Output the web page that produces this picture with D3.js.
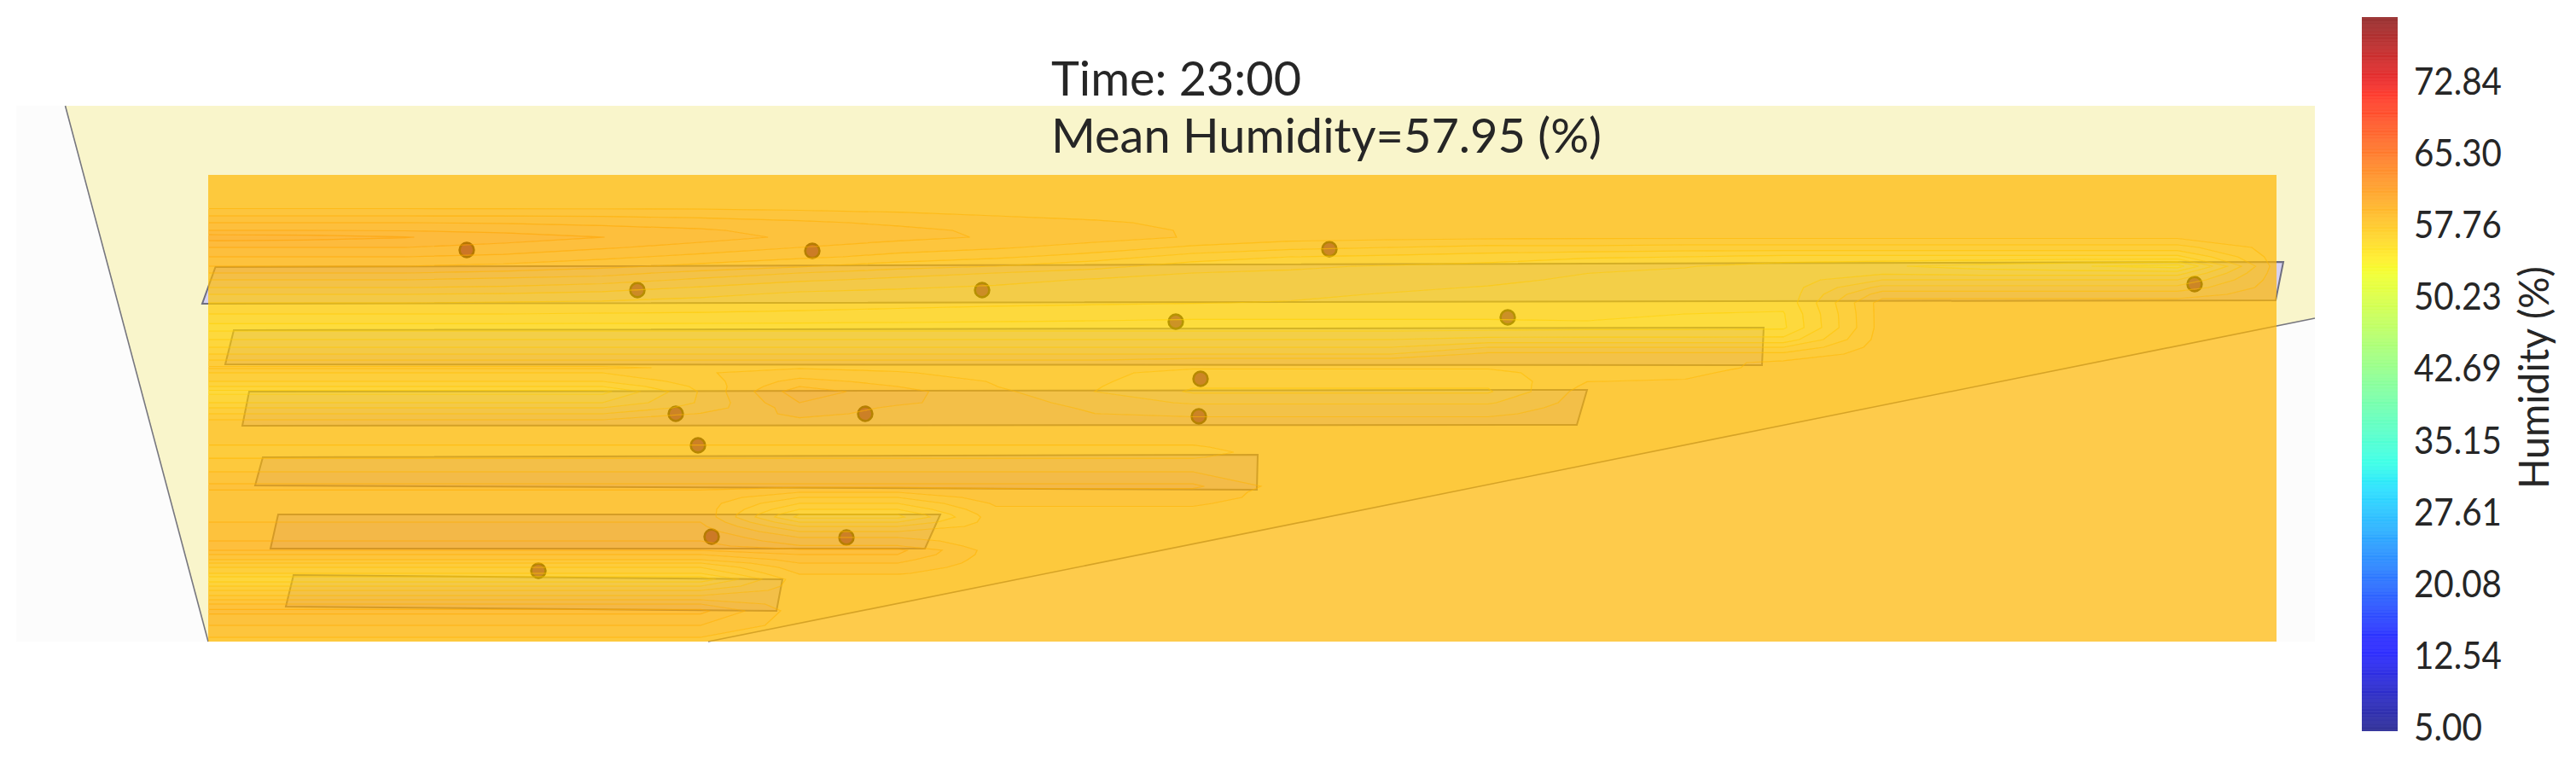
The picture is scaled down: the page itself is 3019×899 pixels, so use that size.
<!DOCTYPE html>
<html><head><meta charset="utf-8">
<script src="https://cdnjs.cloudflare.com/ajax/libs/d3/7.8.5/d3.min.js"></script>
<style>html,body{margin:0;background:#fff}svg{display:block}text{font-family:Lato,"Open Sans",sans-serif;fill:#262626}</style>
</head><body><svg id="c" width="3019" height="899"></svg>
<script>
const titleLines = ["Time: 23:00", "Mean Humidity=57.95 (%)"];
const colorbarLabel = "Humidity (%)";
const colorbarTicks = ["5.00","12.54","20.08","27.61","35.15","42.69","50.23","57.76","65.30","72.84"];
const colorbarTickValues = [5,12.54,20.08,27.61,35.15,42.69,50.23,57.76,65.30,72.84];
const humidityMin = 5, humidityMax = 80, levelStep = 0.375;

// plan coordinates (m-like units)
const gridX = [0,11.5,23.1,34.6,46.2,57.7,69.3,80.8,92.3,103.9,115.4,126.9,138.5,150,161.6,173.1,184.6,196.2,207.7,219.3,230.8,242.4];
// humidity rows, top to bottom: [plan y, value, run, value, run, ...] across gridX
const humidityRows = [
[54.7, 58.8,22],
[51.2, 58.8,22],
[49.9, 59.375,3, 59.37,1, 59.35,1, 59.3,1, 59.2,1, 59.1,1, 59,1, 58.92,1, 58.85,1, 58.8,11],
[49.1, 59.75,3, 59.72,1, 59.65,1, 59.55,1, 59.45,1, 59.3,1, 59.17,1, 59.05,1, 58.92,1, 58.82,1, 58.8,10],
[48.2, 60.125,2, 60.1,1, 60.03,1, 59.92,1, 59.8,1, 59.6,1, 59.47,1, 59.3,1, 59.12,1, 58.97,1, 58.83,1, 58.8,10],
[47.4, 60.7,1, 60.65,1, 60.52,1, 60.3,1, 60.13,1, 59.9,1, 59.68,1, 59.5,1, 59.33,1, 59.15,1, 58.97,1, 58.8,1, 58.75,1, 58.72,1, 58.7,7, 58.8,1],
[46.2, 60.125,3, 60,1, 59.8,1, 59.6,1, 59.375,1, 59.15,1, 59.05,1, 58.85,1, 58.55,1, 58.35,1, 58.25,1, 58.15,2, 58.1,6, 58.8,1],
[45.1, 59.75,3, 59.66,1, 59.47,1, 59.26,1, 59.08,1, 58.9,1, 58.7,1, 58.45,1, 58.08,1, 57.875,1, 57.8,1, 57.7,1, 57.55,1, 57.5,1, 57.4,5, 58.8,1],
[44.0, 59.375,3, 59.28,1, 59.1,1, 58.9,1, 58.67,1, 58.4,1, 58.25,1, 58,1, 57.7,1, 57.55,1, 57.47,1, 57.38,1, 57.2,1, 57.15,1, 56.95,1, 56.8,1, 56.6,1, 56.4,1, 56.2,1, 58.8,1],
[43.2, 59,3, 58.9,1, 58.77,1, 58.49,1, 58.25,1, 58.05,1, 57.875,1, 57.7,1, 57.5,1, 57.46,1, 57.42,1, 57.33,1, 57.13,1, 57.05,1, 56.9,1, 57.05,1, 56.95,3, 58.8,1],
[42.4, 58.625,3, 58.53,1, 58.44,1, 58.18,1, 57.95,1, 57.78,1, 57.6,1, 57.47,1, 57.43,1, 57.38,1, 57.33,1, 57.22,1, 57.05,1, 57,1, 56.9,1, 57.5,4, 58.8,1],
[41.5, 58.25,3, 58.2,1, 58.06,1, 57.84,1, 57.6,1, 57.53,1, 57.46,1, 57.4,1, 57.35,1, 57.3,1, 57.2,1, 57.1,1, 57,1, 56.95,1, 56.9,1, 58,4, 58.8,1],
[40.7, 57.875,3, 57.83,1, 57.76,1, 57.57,1, 57.44,1, 57.4,1, 57.37,1, 57.33,1, 57.27,1, 57.2,1, 57.1,1, 57,1, 56.95,1, 56.9,1, 56.85,1, 58.45,4, 58.8,1],
[39.7, 57.5,3, 57.47,1, 57.43,1, 57.39,1, 57.3,1, 57.25,1, 57.2,1, 57.17,1, 57.14,1, 57.1,1, 57,1, 56.95,1, 56.9,1, 56.85,2, 58.8,5],
[38.4, 57.125,4, 57.1,1, 57.08,1, 57.05,1, 57,1, 56.95,1, 56.9,1, 56.85,5, 56.75,1, 56.72,1, 58.8,5],
[36.8, 56.6,14, 56.65,2, 56.68,1, 58.8,5],
[35.4, 57.125,13, 57.25,4, 58.8,5],
[34.5, 57.5,13, 57.875,4, 58.8,5],
[33.7, 57.875,13, 58.35,4, 58.8,5],
[32.7, 58.4,10, 58.6,4, 58.55,1, 58.5,1, 58.7,1, 58.8,5],
[32.1, 58.7,5, 58.55,1, 58.6,1, 58.55,1, 58.5,1, 58.35,1, 58.3,4, 58.55,1, 58.5,1, 58.72,1, 58.8,5],
[31.5, 58.25,5, 58.6,1, 58.75,1, 58.65,1, 58.52,1, 58.35,1, 58.1,4, 58.55,2, 58.8,6],
[30.5, 57.875,5, 58.45,1, 59.15,1, 58.85,1, 58.6,1, 58.32,1, 57.95,4, 58.62,1, 58.65,1, 58.8,6],
[29.9, 57.5,5, 58.35,1, 59.375,1, 59,1, 58.63,1, 58.28,1, 57.9,4, 58.7,1, 58.8,7],
[29.3, 57,5, 58.29,1, 59.6,1, 59.13,1, 58.72,1, 58.25,1, 57.83,4, 58.8,8],
[28.0, 57.5,5, 58.3,1, 59.375,1, 59.05,1, 58.85,1, 58.45,1, 58.2,4, 58.8,8],
[27.4, 57.875,5, 58.4,1, 59.2,1, 58.95,1, 58.9,1, 58.55,1, 58.4,4, 58.8,8],
[26.7, 58.25,5, 58.65,1, 59.1,1, 58.9,1, 58.88,1, 58.63,1, 58.55,4, 58.8,8],
[26.0, 58.625,5, 58.8,1, 58.95,1, 58.85,2, 58.7,5, 58.8,8],
[24.7, 58.8,22],
[22.8, 58.6,11, 58.75,11],
[22.2, 58.5,11, 58.8,11],
[21.6, 58.6,11, 58.8,11],
[19.9, 59,11, 58.8,11],
[18.2, 59.45,11, 58.8,11],
[17.5, 59.33,6, 59,2, 59.25,3, 58.8,11],
[16.9, 59.27,6, 58.625,2, 59.2,3, 58.8,11],
[16.2, 59.2,6, 58.25,2, 59.05,3, 58.8,11],
[15.5, 59.22,6, 57.875,2, 58.95,3, 58.8,11],
[14.9, 59.28,6, 57.5,2, 58.88,3, 58.8,11],
[14.6, 59.3,6, 57.4,2, 58.85,3, 58.8,11],
[14.0, 59.375,6, 57.875,2, 58.8,14],
[13.5, 59.45,6, 58.25,2, 58.8,14],
[12.9, 59.55,6, 58.625,2, 58.8,14],
[12.2, 59.68,6, 59,2, 58.8,14],
[11.8, 59.75,6, 59.15,2, 58.8,14],
[11.2, 59.9,6, 59.4,2, 58.8,14],
[10.7, 59.75,6, 59.85,2, 58.8,14],
[10.2, 59.375,6, 59.75,2, 58.8,14],
[9.6, 59,6, 59.5,2, 58.8,14],
[9.2, 58.625,6, 59.375,2, 58.8,14],
[8.7, 58.25,6, 59.2,2, 58.8,14],
[8.0, 57.875,6, 59.03,2, 58.8,14],
[7.3, 57.25,6, 58.85,2, 58.8,14],
[6.5, 57.875,6, 58.8,16],
[6.0, 58.25,6, 58.8,16],
[5.4, 58.625,6, 58.8,16],
[4.9, 59,6, 58.8,16],
[4.4, 59.375,6, 58.8,16],
[3.6, 59.85,6, 58.8,16],
[1.9, 59.375,6, 58.8,16],
[0.5, 59,6, 58.8,16],
[0.0, 58.9,6, 58.8,16]
];
const sensorX = [30.3,70.8,50.3,54.8,57.4,59,38.7,74.8,131.4,90.7,113.4,152.3,116.3,77,116.1,232.8];
const sensorY = [45.9,45.8,41.2,26.7,23,12.3,8.3,12.2,46,41.2,37.5,38,30.8,26.7,26.4,41.9];
const planExtent = {x:[-22.5,246.9], y:[0,62.8]};
const floorOutline = [[-16.75,62.8],[246.9,62.8],[246.9,37.9],[58.6,0],[0,0]];
const floorWalls = [[[-16.75,62.8],[0,0]],[[246.9,37.9],[58.6,0]]];
const rooms = [
 [[0.85,43.9],[243.2,44.5],[242.3,40],[-0.7,39.6]],
 [[3,36.5],[182.3,36.8],[182.1,32.4],[2,32.5]],
 [[4.8,29.3],[161.6,29.5],[160.4,25.4],[4,25.3]],
 [[6.4,21.6],[123,21.9],[122.9,17.8],[5.5,18.3]],
 [[8.2,14.9],[85.8,14.9],[84,10.9],[7.3,10.9]],
 [[10,7.8],[67.3,7.3],[66.6,3.6],[9.1,4.1]]
];

const x = d3.scaleLinear([0,242.4],[244,2668]);
const y = d3.scaleLinear([0,54.7],[752,205]);
const cb = d3.scaleLinear([humidityMin,humidityMax],[857,20]);
const svg = d3.select("#c");

const jr = d3.scaleLinear([0,.35,.66,.89,1],[0,0,1,1,.5]);
const jg = d3.scaleLinear([0,.125,.375,.64,.91,1],[0,0,1,1,0,0]);
const jb = d3.scaleLinear([0,.11,.34,.65,1],[.5,1,1,0,0]);
const jet = v => { const t=(v-humidityMin)/(humidityMax-humidityMin);
  return d3.rgb(255*jr(t),255*jg(t),255*jb(t)).formatRgb(); };

const line = d3.line().x(d=>x(d[0])).y(d=>y(d[1]));
svg.append("rect").attr("x",x(planExtent.x[0])).attr("y",y(planExtent.y[1]))
  .attr("width",x(planExtent.x[1])-x(planExtent.x[0])).attr("height",y(planExtent.y[0])-y(planExtent.y[1])).attr("fill","#fcfcfc");
svg.append("path").attr("d",line(floorOutline)+"Z").attr("fill","#f9f5cb");
svg.selectAll(".wall").data(floorWalls).join("path").attr("d",line).attr("fill","none").attr("stroke","#77777f").attr("stroke-width",1.6);
svg.selectAll(".room").data(rooms).join("path").attr("d",d=>line(d)+"Z")
  .attr("fill","#d6d2f2").attr("stroke","#6f6f80").attr("stroke-width",2);
svg.selectAll(".sensor").data(sensorX).join("circle")
  .attr("cx",d=>x(d)).attr("cy",(d,i)=>y(sensorY[i])).attr("r",8.4)
  .attr("fill","#550080").attr("stroke","#0a0a00").attr("stroke-width",2.6);

// field
const nx = gridX.length, ny = humidityRows.length;
const values = [];
humidityRows.forEach(r=>{ for(let k=1;k<r.length;k+=2) for(let n=0;n<r[k+1];n++) values.push(r[k]); });
const gridY = humidityRows.map(r=>r[0]);
const ix = d3.scaleLinear(d3.range(nx),gridX).clamp(true);
const iy = d3.scaleLinear(d3.range(ny),gridY).clamp(true);
const geo = d3.geoPath(d3.geoTransform({point(a,b){this.stream.point(x(ix(a-.5)),y(iy(b-.5)));}}));
const contours = d3.contours().size([nx,ny]);
const levels = d3.range(humidityMin,humidityMax+.001,levelStep);
const vMin = d3.min(values), vMax = d3.max(values);
svg.append("clipPath").attr("id","inner").append("rect")
  .attr("x",x(0)+1).attr("y",y(54.7)+1).attr("width",x(242.4)-x(0)-2).attr("height",y(0)-y(54.7)-2);
const gFill = svg.append("g"), gLine = svg.append("g").attr("clip-path","url(#inner)");
levels.slice(0,-1).forEach((t,i)=>{
  const t2 = levels[i+1];
  if (t2 < vMin || t > vMax) return;
  const a = contours.contour(values,t), b = contours.contour(values,t2);
  const col = jet((t+t2)/2);
  gFill.append("path").attr("d",geo(a)+(geo(b)||"")).attr("fill-rule","evenodd")
    .attr("fill",col).attr("fill-opacity",.7);
  if (t > vMin) gLine.append("path").attr("d",geo(a)).attr("fill","none")
    .attr("stroke",jet(t)).attr("stroke-opacity",.7).attr("stroke-width",1.2);
});

// colorbar
const gb = svg.append("g");
levels.slice(0,-1).forEach((t,i)=>{
  gb.append("rect").attr("x",2768).attr("width",42)
    .attr("y",cb(levels[i+1])).attr("height",cb(t)-cb(levels[i+1]))
    .attr("fill",jet((t+levels[i+1])/2)).attr("fill-opacity",.78);
  if(i) gb.append("line").attr("x1",2768).attr("x2",2810).attr("y1",cb(t)).attr("y2",cb(t))
    .attr("stroke",jet(t)).attr("stroke-opacity",.45).attr("stroke-width",1);
});
const tickWidth = s => s.length===4 ? 80 : 103;
svg.selectAll(".tick").data(colorbarTicks).join("text")
  .attr("x",2829).attr("y",(d,i)=>cb(colorbarTickValues[i])+11)
  .attr("font-size",44).attr("textLength",tickWidth).attr("lengthAdjust","spacingAndGlyphs").text(d=>d);
svg.append("text").attr("transform","translate(2987,573) rotate(-90)").attr("font-size",48)
  .attr("textLength",261).attr("lengthAdjust","spacingAndGlyphs").text(colorbarLabel);
svg.append("text").attr("x",1232).attr("y",112).attr("font-size",56).attr("textLength",293).attr("lengthAdjust","spacingAndGlyphs").text(titleLines[0]);
svg.append("text").attr("x",1232).attr("y",179).attr("font-size",56).attr("textLength",645).attr("lengthAdjust","spacingAndGlyphs").text(titleLines[1]);
</script></body></html>
